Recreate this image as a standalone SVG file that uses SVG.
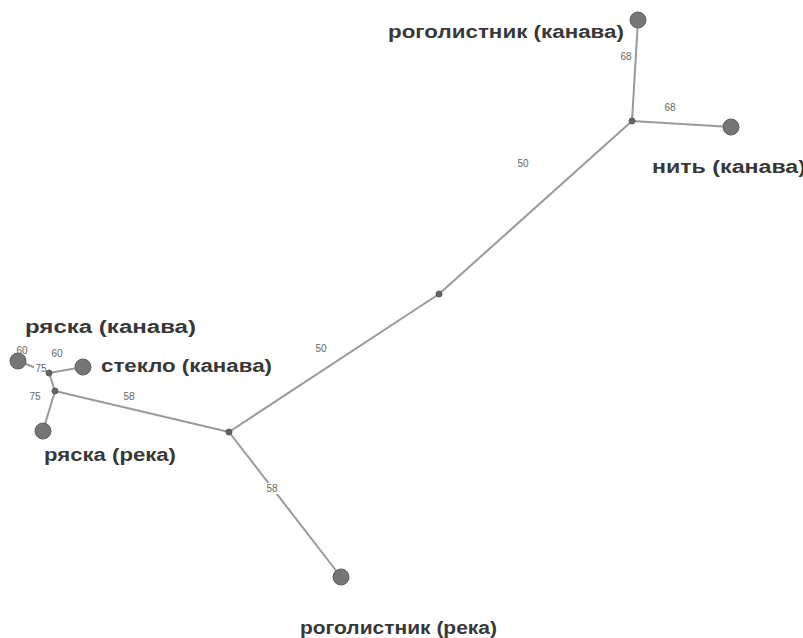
<svg xmlns="http://www.w3.org/2000/svg" width="803" height="638" viewBox="0 0 803 638">
<style>
.e{stroke:#9a9a9a;stroke-width:2;fill:none}
.leaf{fill:#767676;stroke:#5e5e5e;stroke-width:1}
.j{fill:#666;stroke:#555;stroke-width:1}
.t{font-family:"Liberation Sans",Arial,sans-serif;font-weight:bold;font-size:18px;fill:#383838}
.w{font-family:"Liberation Sans",Arial,sans-serif;font-size:10px;fill:#666;text-anchor:middle}
.wb{fill:#fff}
</style>
<rect width="803" height="638" fill="#fff"/>
<g id="edges">
<line class="e" x1="632" y1="121" x2="638" y2="20"/>
<line class="e" x1="632" y1="121" x2="731" y2="127"/>
<line class="e" x1="632" y1="121" x2="439" y2="294"/>
<line class="e" x1="439" y1="294" x2="229" y2="432"/>
<line class="e" x1="229" y1="432" x2="341" y2="577"/>
<line class="e" x1="229" y1="432" x2="55" y2="391"/>
<line class="e" x1="55" y1="391" x2="43" y2="431"/>
<line class="e" x1="55" y1="391" x2="49" y2="373"/>
<line class="e" x1="49" y1="373" x2="18" y2="361"/>
<line class="e" x1="49" y1="373" x2="83" y2="367"/>
</g>
<g id="edge-labels">
<rect class="wb" x="619" y="51" width="14" height="11"/><text class="w" x="626" y="60">68</text>
<rect class="wb" x="663" y="102" width="14" height="11"/><text class="w" x="670" y="111">68</text>
<text class="w" x="523" y="167">50</text>
<text class="w" x="321" y="352">50</text>
<text class="w" x="129" y="400">58</text>
<rect class="wb" x="265" y="483" width="14" height="11"/><text class="w" x="272" y="492">58</text>
<text class="w" x="35" y="400">75</text>
<text class="w" x="22" y="354">60</text>
<text class="w" x="57" y="357">60</text>
<rect class="wb" x="34" y="363" width="14" height="11"/><text class="w" x="41" y="372">75</text>
</g>
<g id="n-rogo-kanava"><circle class="leaf" cx="638" cy="20" r="8"/><text class="t" x="624" y="38" text-anchor="end" textLength="236" lengthAdjust="spacingAndGlyphs">роголистник (канава)</text></g>
<g id="n-nit-kanava"><circle class="leaf" cx="731" cy="127" r="8"/><text class="t" x="652" y="173" textLength="154" lengthAdjust="spacingAndGlyphs">нить (канава)</text></g>
<g id="n-ryaska-kanava"><circle class="leaf" cx="18" cy="361" r="8"/><text class="t" x="25" y="333" textLength="171" lengthAdjust="spacingAndGlyphs">ряска (канава)</text></g>
<g id="n-steklo-kanava"><circle class="leaf" cx="83" cy="367" r="8"/><text class="t" x="101" y="372" textLength="171" lengthAdjust="spacingAndGlyphs">стекло (канава)</text></g>
<g id="n-ryaska-reka"><circle class="leaf" cx="43" cy="431" r="8"/><text class="t" x="44" y="461" textLength="132" lengthAdjust="spacingAndGlyphs">ряска (река)</text></g>
<g id="n-rogo-reka"><circle class="leaf" cx="341" cy="577" r="8"/><text class="t" x="300" y="634" textLength="197" lengthAdjust="spacingAndGlyphs">роголистник (река)</text></g>
<g id="j1"><circle class="j" cx="632" cy="121" r="3"/></g>
<g id="j2"><circle class="j" cx="439" cy="294" r="3"/></g>
<g id="j3"><circle class="j" cx="229" cy="432" r="3"/></g>
<g id="j4"><circle class="j" cx="55" cy="391" r="3"/></g>
<g id="j5"><circle class="j" cx="49" cy="373" r="3"/></g>
</svg>
